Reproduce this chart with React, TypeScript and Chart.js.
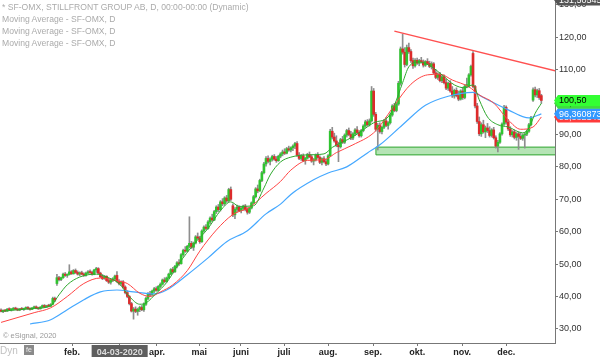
import React, { useEffect, useRef } from "react";
import { Chart, registerables } from "chart.js";

Chart.register(...registerables);

// OHLC per trading day: [open, high, low, close]
const candles: [number, number, number, number][] = [
  [35.8,36.2,35.2,35.4],[35.4,35.9,35.0,35.7],[35.7,36.0,35.3,35.5],[35.5,36.3,35.4,36.1],[36.1,36.5,35.7,35.9],
  [35.9,36.2,35.5,36.0],[36.0,36.6,35.8,36.4],[36.4,36.7,35.9,36.1],[36.1,36.4,35.6,35.8],[35.8,36.3,35.6,36.2],
  [36.2,36.6,35.9,36.0],[36.0,36.4,35.7,36.3],[36.3,36.8,36.1,36.6],[36.6,36.9,36.0,36.2],[36.2,36.5,35.8,36.0],
  [36.0,36.6,35.9,36.5],[36.5,37.0,36.3,36.8],[36.8,37.1,36.2,36.4],[36.4,36.7,36.0,36.2],[36.2,36.9,36.1,36.7],
  [36.7,37.4,36.5,37.2],[37.2,37.5,36.6,36.8],[36.8,37.3,36.6,37.1],[37.1,37.6,36.8,37.0],[37.0,37.8,36.9,37.5],
  [37.6,39.8,37.4,39.4],[39.4,39.8,38.4,38.9],[44.0,46.8,43.4,45.8],[45.8,46.2,44.8,45.2],[45.2,46.0,44.9,45.8],
  [45.8,47.2,45.6,46.9],[46.9,47.4,46.2,46.5],[46.5,47.0,45.9,46.8],[46.8,49.8,46.6,47.6],[47.6,48.0,46.8,47.0],
  [47.0,48.3,46.9,48.0],[48.0,48.5,47.1,47.4],[47.4,47.9,46.6,46.9],[46.9,47.6,46.4,47.3],[47.3,47.8,46.7,46.9],
  [46.9,47.3,46.2,46.5],[46.5,47.5,46.3,47.2],[47.2,48.0,47.0,47.6],[47.6,48.2,47.1,47.4],[47.4,47.8,46.6,46.8],
  [46.8,48.4,46.7,48.2],[48.2,49.0,47.4,48.6],[48.6,48.9,46.9,47.2],[47.2,47.5,45.8,46.1],[46.1,46.8,45.2,45.5],
  [45.5,46.5,45.3,46.2],[46.2,46.4,44.6,44.9],[44.9,45.6,44.0,44.4],[44.4,45.3,43.8,45.0],[45.0,45.8,44.6,45.4],
  [45.4,46.6,45.0,46.3],[46.5,47.7,44.3,44.6],[44.6,45.2,43.6,44.0],[44.0,44.8,43.4,44.5],[44.5,44.9,42.6,42.9],
  [42.9,43.3,40.8,41.2],[41.2,41.8,39.6,40.0],[40.0,40.3,37.4,37.8],[37.8,38.2,35.2,35.5],[35.5,36.6,33.0,36.1],
  [36.1,36.8,35.0,35.4],[35.4,36.4,34.2,36.0],[36.0,37.0,35.3,36.6],[36.6,37.2,35.6,35.9],[35.9,38.0,35.4,37.6],
  [37.6,39.8,37.2,39.4],[39.4,41.2,39.0,40.8],[40.8,41.6,40.1,40.5],[40.5,42.0,40.3,41.7],[41.7,42.8,41.2,42.4],
  [42.4,43.0,41.6,41.9],[41.9,43.4,41.7,43.1],[43.1,44.2,42.6,43.8],[43.8,45.4,43.5,45.1],[45.1,45.8,44.2,44.6],
  [44.6,46.0,44.4,45.7],[45.7,47.2,45.5,46.9],[46.9,48.6,46.7,48.3],[48.3,49.0,47.2,47.6],[47.6,49.6,47.4,49.3],
  [49.3,50.8,48.8,50.4],[50.4,51.4,49.6,50.1],[50.1,53.2,50.0,52.9],[52.9,54.6,52.4,54.2],[54.2,55.4,53.6,54.0],
  [54.0,55.8,53.8,55.5],[55.5,64.6,55.0,56.4],[56.4,57.0,54.8,55.2],[55.2,56.8,54.2,56.5],[56.5,58.8,56.2,58.4],
  [58.4,59.6,57.6,58.0],[58.0,58.6,56.4,56.9],[56.9,60.6,56.7,60.2],[60.2,61.8,59.8,61.4],[61.4,62.2,60.6,61.0],
  [61.0,63.4,60.8,63.0],[63.0,64.6,62.4,64.2],[64.2,65.4,63.2,63.6],[63.6,66.6,63.4,66.2],[66.2,68.0,65.6,67.6],
  [67.6,68.4,66.2,66.8],[66.8,69.6,66.4,69.2],[69.2,70.2,68.0,68.6],[68.6,70.8,68.2,70.4],[70.4,71.2,69.0,69.5],
  [69.5,73.4,69.2,73.0],[73.0,73.8,69.6,70.0],[68.0,68.6,64.6,65.2],[65.2,67.4,64.0,66.9],[66.9,68.2,66.0,67.6],
  [67.6,68.0,66.2,66.5],[66.5,67.6,65.8,67.2],[67.2,68.2,66.6,67.9],[67.9,68.4,66.4,66.8],[66.8,67.4,65.4,66.0],
  [66.0,67.6,65.6,67.3],[67.3,69.2,67.0,68.9],[68.9,71.2,68.6,70.8],[70.8,73.6,70.4,73.2],[73.2,74.4,72.0,72.6],
  [72.6,76.2,72.4,75.8],[75.8,78.6,75.4,78.2],[78.2,81.4,77.8,80.9],[80.9,83.2,80.2,82.6],[82.6,83.4,81.2,81.7],
  [81.7,82.8,80.6,82.3],[82.3,83.6,81.8,83.2],[83.2,83.8,82.0,82.4],[82.4,83.2,81.4,81.9],[81.9,83.6,81.7,83.3],
  [83.3,84.4,82.8,84.0],[84.0,85.2,83.4,84.6],[84.6,85.6,83.8,84.2],[84.2,86.0,84.0,85.6],[85.6,86.4,84.8,85.2],
  [85.2,86.2,84.6,85.9],[85.9,86.8,85.0,86.4],[86.4,87.6,85.6,87.2],[87.2,87.8,83.2,83.6],[83.6,84.4,82.2,82.6],
  [82.6,83.8,82.0,83.4],[83.4,84.0,81.6,81.9],[81.9,83.0,80.8,82.7],[82.7,84.2,82.4,83.8],[83.8,84.6,82.8,83.1],
  [83.1,83.8,81.4,81.8],[81.8,82.6,80.6,82.2],[82.2,84.0,81.8,83.6],[83.6,84.4,82.6,82.9],[82.9,83.4,81.0,81.4],
  [81.4,82.8,80.6,82.5],[82.5,83.2,81.2,81.6],[81.6,82.4,80.4,80.9],[80.9,83.8,80.6,83.4],[83.4,91.6,83.2,91.0],
  [91.0,92.2,88.6,89.2],[89.2,90.4,87.6,88.0],[88.0,89.6,86.2,86.8],[86.8,87.6,81.6,86.2],[86.2,88.8,85.8,88.4],
  [88.4,89.4,87.2,87.6],[87.6,90.2,87.2,89.8],[89.8,91.6,89.2,91.2],[91.2,92.0,89.6,90.0],[90.0,91.0,88.4,88.9],
  [88.9,90.6,88.4,90.2],[90.2,91.8,89.6,91.4],[91.4,92.4,90.2,90.6],[90.6,91.2,89.2,89.6],[89.6,91.6,89.2,91.2],
  [91.2,93.0,90.8,92.6],[92.6,94.4,92.2,93.9],[93.9,94.6,92.6,93.0],[93.0,94.8,92.6,94.2],[94.2,104.8,93.8,103.4],
  [103.4,104.2,95.6,96.2],[96.2,96.8,91.0,91.6],[91.6,93.4,85.2,92.8],[92.8,93.6,90.4,90.9],[90.9,92.6,90.2,92.2],
  [92.2,94.6,91.8,94.2],[94.2,95.2,92.4,92.8],[92.8,94.0,91.6,93.6],[93.6,96.4,93.2,96.0],[96.0,99.2,95.6,98.8],
  [98.8,99.6,97.0,97.4],[97.4,99.8,97.0,99.4],[99.4,106.4,99.0,105.8],[105.8,117.0,105.2,116.4],[116.4,121.0,114.8,115.4],
  [115.4,116.8,110.8,111.6],[111.6,117.6,111.2,116.8],[116.8,118.2,115.0,115.6],[115.6,116.2,112.2,112.8],[112.8,113.6,110.4,111.2],
  [111.2,113.4,110.8,112.9],[112.9,113.6,111.6,112.0],[112.0,113.2,111.2,112.8],[112.8,113.8,112.0,112.4],[112.4,113.0,110.8,111.4],
  [111.4,112.8,111.0,112.5],[112.5,113.4,111.6,111.9],[111.9,112.6,110.6,111.0],[111.0,112.4,110.2,111.8],[111.8,112.2,108.6,109.0],
  [109.0,110.0,107.2,107.6],[107.6,109.0,107.0,108.6],[108.6,109.2,106.2,106.6],[106.6,108.2,106.0,107.8],[107.8,108.4,105.6,106.0],
  [106.0,107.0,103.8,104.3],[104.3,106.2,103.6,105.8],[105.8,106.6,103.0,103.4],[103.4,104.8,101.4,101.9],[101.9,104.0,101.2,103.6],
  [103.6,104.4,101.6,102.0],[102.0,103.4,100.4,100.9],[100.9,103.8,100.6,103.4],[103.4,104.6,100.8,101.4],[101.4,105.4,101.0,104.9],
  [104.9,107.4,104.4,105.4],[105.0,108.8,104.6,108.4],[108.4,111.4,108.0,111.0],[115.0,115.6,104.4,104.8],[104.8,105.2,98.2,98.8],
  [98.8,99.6,93.4,94.0],[94.0,95.4,89.6,90.2],[90.2,93.6,89.4,93.0],[93.0,94.4,90.4,90.8],[90.8,92.6,89.0,92.0],
  [92.0,93.4,90.6,91.2],[91.2,92.4,89.2,89.7],[89.7,91.8,89.2,91.4],[91.4,92.2,88.6,89.0],[89.0,89.6,85.8,86.4],
  [86.4,88.2,84.6,87.6],[87.6,90.6,87.2,90.2],[90.2,93.6,89.8,93.2],[93.2,99.0,92.8,98.4],[98.4,98.8,93.2,93.8],
  [93.8,94.6,91.2,91.7],[91.7,92.4,89.4,89.9],[89.9,91.2,89.2,90.8],[90.8,91.4,88.6,89.1],[89.1,90.6,88.2,90.2],
  [90.2,90.8,85.4,89.4],[89.4,90.4,88.4,88.8],[88.8,90.2,88.2,89.8],[89.8,90.6,85.8,90.1],[90.1,91.4,89.6,91.0],
  [91.0,93.4,90.6,93.0],[93.0,95.6,92.6,95.2],[100.6,104.4,100.2,103.8],[103.8,104.6,101.6,102.2],[102.2,104.0,101.4,103.5],
  [103.5,104.2,100.8,101.4],[102.0,102.4,99.6,100.5],
];

// Moving averages: [day index, value]
const greenMA: [number, number][] = [
  [0,35.4],[8,35.9],[16,36.3],[24,37.1],[28,40.5],[32,43.6],[38,46.0],[46,46.9],[51,46.0],[57,44.0],
  [62,40.0],[67,37.6],[70,38.0],[75,41.0],[80,44.3],[86,50.2],[93,56.0],[100,61.0],[106,66.5],[111,69.2],
  [115,67.8],[122,68.0],[127,73.5],[130,77.5],[135,81.5],[140,83.0],[148,83.7],[156,84.0],[160,86.0],[170,89.3],
  [174,91.0],[180,93.6],[187,95.4],[190,99.0],[194,106.0],[197,110.9],[202,112.4],[208,110.9],[213,108.4],[219,105.3],
  [224,104.4],[228,105.3],[231,100.7],[235,95.4],[240,93.0],[245,92.3],[252,90.5],[255,92.0],[258,96.5],[261,99.6],
];
const redMA: [number, number][] = [
  [0,32.0],[16,35.0],[24,36.5],[32,40.0],[40,44.0],[48,45.7],[56,44.8],[61,44.0],[67,41.0],[72,40.0],
  [77,41.4],[83,43.6],[90,48.0],[96,54.0],[104,60.5],[112,65.3],[120,67.5],[128,71.8],[135,75.5],[140,79.0],
  [148,82.0],[156,82.2],[162,84.4],[170,86.8],[180,90.5],[184,93.5],[190,99.0],[198,105.5],[206,108.4],[212,108.6],
  [218,106.8],[226,104.7],[231,102.2],[238,99.7],[245,94.5],[251,91.6],[257,92.3],[261,95.4],
];
const blueMA: [number, number][] = [
  [14,31.5],[24,32.8],[32,35.9],[40,39.0],[48,41.4],[56,42.0],[64,41.4],[74,40.8],[80,42.0],[90,46.7],
  [100,51.9],[109,56.9],[119,60.3],[128,65.5],[135,68.5],[140,71.5],[151,76.0],[158,78.1],[167,80.0],[177,84.3],
  [183,86.8],[194,93.0],[205,99.0],[216,101.8],[228,103.0],[233,101.4],[245,97.6],[255,95.1],[261,96.36],
];

// Drawn objects
const trendLine: [number, number][] = [[190.0, 121.9], [268.0, 109.6]];
const supportZone = { from: 181.1, to: 268.0, low: 83.7, high: 86.1 };

// Axis ticks
const monthTicks: [number, string][] = [
  [34.3, "feb."], [57.3, "04-03-2020"], [75.3, "apr."], [95.7, "mai"], [115.9, "juni"], [136.7, "juli"],
  [158.0, "aug."], [179.7, "sep."], [201.0, "okt."], [222.7, "nov."], [244.0, "dec."],
];
const priceTicks = [30, 40, 50, 60, 70, 80, 90, 100, 110, 120, 130];

// Value badges on the price axis
const badges: [number, string, string, string][] = [
  [95.4, "95,382146", "#ff3b3b", "#ffffff"],
  [96.360873, "96,360873", "#3399ff", "#ffffff"],
  [99.635534, "99,635534", "#3fdc3f", "#0a5a0a"],
  [100.5, "100,50", "#33ff33", "#000000"],
  [131.50545, "131,50545", "#555555", "#ffffff"],
];

const FONT = "'Liberation Sans', Arial, sans-serif";
const X_MIN = -0.5;
const X_MAX = 267.6;
const Y_MIN = 25.64;
const Y_MAX = 131.5;

const badgePlugin = {
  id: "badges",
  afterDraw(chart: any) {
    const ctx = chart.ctx as CanvasRenderingContext2D;
    const y = chart.scales.y;
    const x0 = chart.chartArea.right - 1;
    const w = chart.width;
    const h = 11;
    ctx.save();
    ctx.font = `9px ${FONT}`;
    ctx.textBaseline = "middle";
    ctx.textAlign = "left";
    for (const [v, t, bg, fg] of badges) {
      const py = y.getPixelForValue(v);
      ctx.beginPath();
      ctx.moveTo(x0, py);
      ctx.lineTo(x0 + 4, py - h / 2);
      ctx.lineTo(w, py - h / 2);
      ctx.lineTo(w, py + h / 2);
      ctx.lineTo(x0 + 4, py + h / 2);
      ctx.closePath();
      ctx.fillStyle = bg;
      ctx.fill();
      ctx.fillStyle = fg;
      ctx.fillText(t, x0 + 5, py + 0.5);
    }
    ctx.restore();
  },
};

export default function App() {
  const ref = useRef<HTMLCanvasElement | null>(null);

  useEffect(() => {
    document.body.style.margin = "0";
    const canvas = ref.current;
    if (!canvas) return;
    const up = "#2fc42f";
    const down = "#dc2b2b";
    const labelOf = new Map(monthTicks.map(([i, l]) => [i, l]));

    const chart = new Chart(canvas, {
      type: "bar",
      data: {
        datasets: [
          {
            type: "line",
            label: "trend",
            data: trendLine.map(([x, y]) => ({ x, y })),
            borderColor: "#ff5050",
            borderWidth: 1.5,
            pointRadius: 0,
            order: 0,
          } as any,
          {
            type: "line",
            label: "ma-green",
            data: greenMA.map(([x, y]) => ({ x, y })),
            borderColor: "#2ea82e",
            borderWidth: 1,
            pointRadius: 0,
            tension: 0.4,
            cubicInterpolationMode: "monotone",
            order: 1,
          } as any,
          {
            type: "line",
            label: "ma-red",
            data: redMA.map(([x, y]) => ({ x, y })),
            borderColor: "#ff4444",
            borderWidth: 1,
            pointRadius: 0,
            tension: 0.4,
            cubicInterpolationMode: "monotone",
            order: 1,
          } as any,
          {
            type: "line",
            label: "ma-blue",
            data: blueMA.map(([x, y]) => ({ x, y })),
            borderColor: "#45a8ff",
            borderWidth: 1.2,
            pointRadius: 0,
            tension: 0.4,
            cubicInterpolationMode: "monotone",
            order: 1,
          } as any,
          {
            type: "bar",
            label: "bodies",
            data: candles.map((c, i) => ({ x: i, y: [c[0], c[3]] })),
            backgroundColor: candles.map((c) => (c[3] >= c[0] ? up : down)),
            borderWidth: 0,
            barThickness: 2,
            minBarLength: 1,
            grouped: false,
            order: 2,
          } as any,
          {
            type: "bar",
            label: "wicks",
            data: candles.map((c, i) => ({ x: i, y: [c[2], c[1]] })),
            backgroundColor: "#8e8e8e",
            borderWidth: 0,
            barThickness: 1,
            grouped: false,
            order: 3,
          } as any,
          {
            type: "line",
            label: "zone",
            data: [
              { x: supportZone.from, y: supportZone.low },
              { x: supportZone.from, y: supportZone.high },
              { x: supportZone.to, y: supportZone.high },
              { x: supportZone.to, y: supportZone.low },
              { x: supportZone.from, y: supportZone.low },
            ],
            borderColor: "#2fa52f",
            borderWidth: 1,
            backgroundColor: "rgba(120, 205, 120, 0.55)",
            fill: "shape",
            pointRadius: 0,
            tension: 0,
            order: 4,
          } as any,
        ],
      },
      options: {
        animation: false,
        responsive: false,
        devicePixelRatio: 1,
        layout: { padding: 0 },
        plugins: { legend: { display: false }, tooltip: { enabled: false } },
        scales: {
          x: {
            type: "linear",
            position: "bottom",
            min: X_MIN,
            max: X_MAX,
            offset: false,
            grid: { display: true, drawOnChartArea: false, tickLength: 3, color: "#777", offset: false },
            border: { display: true, color: "#777" },
            ticks: {
              autoSkip: false,
              maxRotation: 0,
              padding: 1,
              font: { family: FONT, size: 9, weight: "bold" },
              color: (c: any) => (c.index === 1 ? "#dddddd" : "#222222"),
              showLabelBackdrop: (c: any) => c.index === 1,
              backdropColor: "#5e5e5e",
              backdropPadding: { top: 2, bottom: 2, left: 5, right: 5 },
              callback: (v: any) => labelOf.get(v) ?? "",
            },
            afterBuildTicks: (s: any) => {
              s.ticks = monthTicks.map(([i]) => ({ value: i }));
            },
            afterFit: (s: any) => {
              s.height = 14;
              s.paddingLeft = 0;
              s.paddingRight = 0;
            },
          } as any,
          y: {
            type: "linear",
            position: "right",
            min: Y_MIN,
            max: Y_MAX,
            grid: { display: true, drawOnChartArea: false, tickLength: 3, color: "#777" },
            border: { display: true, color: "#777" },
            ticks: {
              padding: 1,
              font: { family: FONT, size: 9 },
              color: "#333333",
              callback: (v: any) => Number(v).toFixed(2).replace(".", ","),
            },
            afterBuildTicks: (s: any) => {
              s.ticks = priceTicks.map((v) => ({ value: v }));
            },
            afterFit: (s: any) => {
              s.width = 45;
              s.paddingTop = 0;
              s.paddingBottom = 0;
            },
          } as any,
        },
      },
      plugins: [badgePlugin],
    });
    return () => chart.destroy();
  }, []);

  const legendStyle: React.CSSProperties = {
    position: "absolute",
    left: 2,
    top: 1,
    fontFamily: FONT,
    fontSize: "8.6px",
    lineHeight: "12px",
    color: "#ababab",
    pointerEvents: "none",
    whiteSpace: "nowrap",
  };

  return (
    <div style={{ position: "relative", width: 600, height: 357, overflow: "hidden", background: "#fff" }}>
      <canvas ref={ref} width={600} height={357} style={{ display: "block" }} />
      <div style={legendStyle}>
        <div>* SF-OMX, STILLFRONT GROUP AB, D, 00:00-00:00 (Dynamic)</div>
        <div>Moving Average - SF-OMX, D</div>
        <div>Moving Average - SF-OMX, D</div>
        <div>Moving Average - SF-OMX, D</div>
      </div>
      <div
        style={{
          position: "absolute",
          left: 3,
          top: 331,
          fontFamily: FONT,
          fontSize: "7.5px",
          color: "#9a9a9a",
          whiteSpace: "nowrap",
        }}
      >
        © eSignal, 2020
      </div>
      <div
        style={{
          position: "absolute",
          left: 0,
          top: 345,
          fontFamily: FONT,
          fontSize: "10px",
          color: "#c0c0c0",
          whiteSpace: "nowrap",
        }}
      >
        Dyn
      </div>
      <div
        style={{
          position: "absolute",
          left: 24,
          top: 345,
          width: 10,
          height: 10,
          background: "#8a8a8a",
          color: "#eeeeee",
          fontFamily: FONT,
          fontSize: "7px",
          lineHeight: "10px",
          textAlign: "center",
        }}
      >
        fe
      </div>
    </div>
  );
}
